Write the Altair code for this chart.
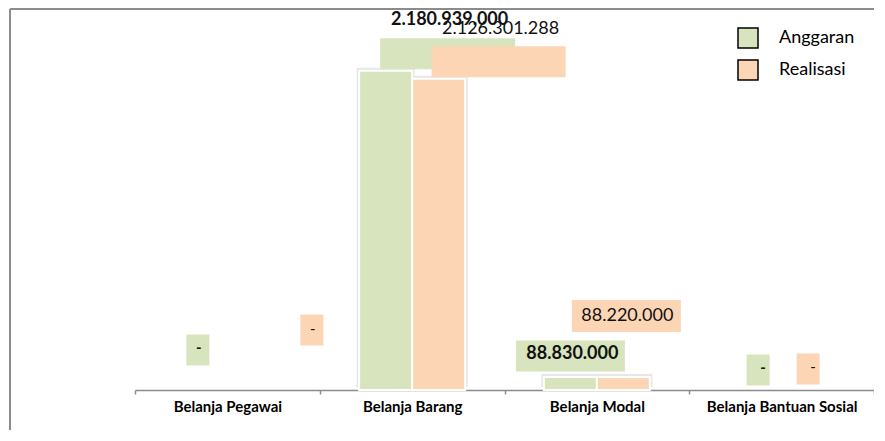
import altair as alt
import pandas as pd

categories = ["Belanja Pegawai", "Belanja Barang", "Belanja Modal", "Belanja Bantuan Sosial"]
series_names = ["Anggaran", "Realisasi"]
anggaran = [0, 2180939000, 88830000, 0]
realisasi = [0, 2126301288, 88220000, 0]
colors = ["#D7E4BD", "#FCD5B5"]


def fmt(v):
    return "-" if v == 0 else f"{v:,}".replace(",", ".")


rows = []
for i, c in enumerate(categories):
    for s, vals in zip(series_names, [anggaran, realisasi]):
        rows.append({"category": c, "series": s, "value": vals[i], "label": fmt(vals[i])})
df = pd.DataFrame(rows)

# label placement (pixels, relative to bar top/centre):
# box_dx, box_dy, box_w, box_h, text_dx, text_dy, font_size, bold
label_layout = {
    ("Belanja Pegawai", "Anggaran"): (-3, -40, 23, 31, -2, -42, 15, True),
    ("Belanja Pegawai", "Realisasi"): (58, -60, 23, 31, 59, -61, 15, False),
    ("Belanja Barang", "Anggaran"): (62, -17, 135, 31, 64, -51, 18, True),
    ("Belanja Barang", "Realisasi"): (60, -17, 134, 31, 62, -50, 18, False),
    ("Belanja Modal", "Anggaran"): (0, -21, 109, 31, 2, -23, 18, True),
    ("Belanja Modal", "Realisasi"): (3, -61, 109, 32, 4, -61, 18, False),
    ("Belanja Bantuan Sosial", "Anggaran"): (3, -20, 23, 31, 8, -22, 15, True),
    ("Belanja Bantuan Sosial", "Realisasi"): (0, -21, 23, 31, 5, -23, 15, False),
}
series_shift = {"Anggaran": -26.5, "Realisasi": 26.5}

FONT = "Lato"
x_scale = alt.Scale(domain=categories, paddingInner=0, paddingOuter=0)
x_axis = alt.Axis(title=None, labelAngle=0, tickBand="extent", domainColor="#8c8c8c",
                  tickColor="#8c8c8c", domainWidth=1.5, tickWidth=1.5, tickSize=4,
                  labelFont=FONT, labelFontWeight="bold", labelFontSize=15,
                  labelColor="#000000", labelPadding=5)
x_enc = alt.X("category:N", scale=x_scale, axis=x_axis)
xo_enc = alt.XOffset("series:N", scale=alt.Scale(domain=series_names, paddingInner=0, paddingOuter=0.743))
y_scale = alt.Scale(domain=[0, 2500000000], nice=False)

base = alt.Chart(df)

frame_top = base.mark_rule(color="#8c8c8c", strokeWidth=1.5).encode(
    x=alt.value(-125), x2=alt.value(760), y=alt.value(-15))
frame_left = base.mark_rule(color="#8c8c8c", strokeWidth=1.5).encode(
    x=alt.value(-125), y=alt.value(-15), y2=alt.value(430))

shadow = base.transform_filter(alt.datum.value > 0).mark_bar(
    color="#e6e6e6", width=58, yOffset=-3).encode(
    x=x_enc, xOffset=xo_enc, y=alt.Y("value:Q", scale=y_scale, axis=None))

bars = base.transform_filter(alt.datum.value > 0).mark_bar(stroke="white", strokeWidth=2).encode(
    x=x_enc, xOffset=xo_enc,
    y=alt.Y("value:Q", scale=y_scale, axis=None),
    color=alt.Color("series:N", scale=alt.Scale(domain=series_names, range=colors),
                    legend=alt.Legend(title=None, orient="none", legendX=602, legendY=3,
                                      symbolType="square", symbolSize=400,
                                      symbolStrokeColor="black", symbolStrokeWidth=1.5,
                                      symbolOpacity=1,
                                      labelFont=FONT, labelFontSize=18, labelColor="#000000",
                                      labelOffset=20, rowPadding=6, padding=0)),
)

box_layers = []
text_layers = []
for (c, s), (bdx, bdy, bw, bh, tdx, tdy, fs, bold) in label_layout.items():
    col = colors[series_names.index(s)]
    sub = base.transform_filter((alt.datum.category == c) & (alt.datum.series == s))
    box_layers.append(sub.mark_bar(color=col, width=bw, xOffset=series_shift[s] + bdx,
                                   yOffset=bdy - bh / 2, y2Offset=bdy + bh / 2).encode(
        x=x_enc, y="value:Q", y2="value:Q"))
    text_layers.append(sub.mark_text(font=FONT, fontSize=fs, fontWeight="bold" if bold else "normal",
                                     color="#111111", dx=tdx, dy=tdy, baseline="middle",
                                     align="center").encode(
        x=x_enc, xOffset=xo_enc, y="value:Q", text="label:N"))

chart = alt.layer(frame_top, frame_left, shadow, bars, *box_layers, *text_layers).properties(
    width=739, height=366,
    padding={"left": 127, "top": 16, "right": 0, "bottom": 40},
    autosize="none",
).configure_view(stroke=None)

chart.save("out.html", embed_options={"renderer": "svg", "actions": False})
